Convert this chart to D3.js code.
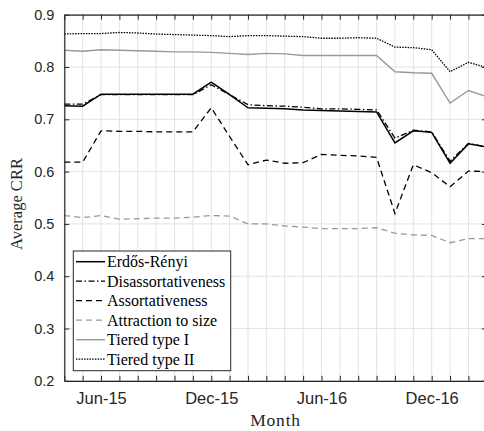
<!DOCTYPE html>
<html>
<head>
<meta charset="utf-8">
<script src="https://d3js.org/d3.v7.min.js"></script>
<style>
  body { margin: 0; background: #fff; }
  svg { display: block; }
</style>
</head>
<body>
<div id="chart"></div>
<script>
// months Apr-15 .. Mar-17 (last one runs off the right edge)
var months = ["Apr-15","May-15","Jun-15","Jul-15","Aug-15","Sep-15","Oct-15","Nov-15","Dec-15",
              "Jan-16","Feb-16","Mar-16","Apr-16","May-16","Jun-16","Jul-16","Aug-16","Sep-16",
              "Oct-16","Nov-16","Dec-16","Jan-17","Feb-17","Mar-17"];
var labeledMonths = ["Jun-15","Dec-15","Jun-16","Dec-16"];
var yTicks = [0.2, 0.3, 0.4, 0.5, 0.6, 0.7, 0.8, 0.9];

var seriesNames = ["Erdős-Rényi","Disassortativeness","Assortativeness","Attraction to size","Tiered type I","Tiered type II"];

var erdosRenyi   = [0.726,0.725,0.748,0.748,0.748,0.748,0.748,0.748,0.771,0.747,0.722,0.721,0.720,0.718,0.717,0.716,0.715,0.714,0.655,0.678,0.675,0.616,0.653,0.647];
var disassort    = [0.729,0.729,0.747,0.747,0.747,0.747,0.747,0.747,0.766,0.747,0.728,0.726,0.725,0.723,0.720,0.720,0.719,0.718,0.664,0.679,0.676,0.620,0.654,0.647];
var assort       = [0.618,0.618,0.678,0.677,0.677,0.676,0.676,0.676,0.722,0.667,0.613,0.622,0.616,0.617,0.633,0.631,0.630,0.627,0.520,0.613,0.598,0.571,0.601,0.600];
var attraction   = [0.516,0.512,0.516,0.509,0.510,0.511,0.511,0.513,0.516,0.515,0.500,0.500,0.496,0.494,0.491,0.491,0.491,0.493,0.482,0.479,0.478,0.464,0.472,0.472];
var tieredOne    = [0.832,0.830,0.833,0.832,0.831,0.830,0.829,0.829,0.828,0.826,0.824,0.826,0.825,0.822,0.822,0.822,0.822,0.822,0.791,0.789,0.788,0.731,0.755,0.743];
var tieredTwo    = [0.863,0.864,0.864,0.866,0.865,0.863,0.862,0.861,0.860,0.858,0.860,0.860,0.859,0.858,0.855,0.855,0.856,0.855,0.838,0.837,0.833,0.791,0.809,0.799];

var allSeries = [erdosRenyi, disassort, assort, attraction, tieredOne, tieredTwo];
var colors = ["#000", "#000", "#000", "#999", "#999", "#000"];
var dashes = [null, "6,2.5,1.5,2.5", "6,4", "6,4", null, "1.5,1.2"];
var widths = [1.5, 1.3, 1.3, 1.3, 1.4, 1.3];

var W = 484, H = 431;
var pLeft = 64.3, pRight = 486.8, pTop = 14.7, pBottom = 380.8;
var axisColor = "#262626";

var svg = d3.select("#chart").append("svg")
    .attr("width", W)
    .attr("height", H);

var x = d3.scalePoint().domain(months).range([pLeft, pRight]);
var y = d3.scaleLinear().domain([0.2, 0.9]).range([pBottom, pTop]);

// grid
svg.append("g").selectAll("line")
  .data(months).enter().append("line")
    .attr("x1", d => x(d)).attr("x2", d => x(d))
    .attr("y1", pTop).attr("y2", pBottom)
    .attr("stroke", "#e3e3e3").attr("stroke-width", 1);
svg.append("g").selectAll("line")
  .data(yTicks).enter().append("line")
    .attr("x1", pLeft).attr("x2", pRight)
    .attr("y1", d => y(d)).attr("y2", d => y(d))
    .attr("stroke", "#e3e3e3").attr("stroke-width", 1);

// lines
var line = d3.line()
    .x((d, i) => x(months[i]))
    .y(d => y(d));

svg.append("g").selectAll("path")
  .data(allSeries).enter().append("path")
    .attr("d", d => line(d))
    .attr("fill", "none")
    .attr("stroke", (d, i) => colors[i])
    .attr("stroke-width", (d, i) => widths[i])
    .attr("stroke-dasharray", (d, i) => dashes[i]);

// axes, ticks pointing inward
function fmtX(d) { return labeledMonths.indexOf(d) >= 0 ? d : ""; }

var xb = svg.append("g").attr("transform", "translate(0," + pBottom + ")")
    .call(d3.axisBottom(x).tickSize(-5).tickSizeOuter(0).tickPadding(11.5).tickFormat(fmtX));
var xt = svg.append("g").attr("transform", "translate(0," + pTop + ")")
    .call(d3.axisTop(x).tickSize(-5).tickSizeOuter(0).tickFormat(""));
var yl = svg.append("g").attr("transform", "translate(" + pLeft + ",0)")
    .call(d3.axisLeft(y).tickValues(yTicks).tickSize(-5).tickSizeOuter(0).tickPadding(10).tickFormat(d3.format(".1f")));
var yr = svg.append("g").attr("transform", "translate(" + pRight + ",0)")
    .call(d3.axisRight(y).tickValues(yTicks).tickSize(-5).tickSizeOuter(0).tickFormat(""));

[xb, xt, yl, yr].forEach(function(g) {
  g.select(".domain").attr("stroke", axisColor).attr("stroke-width", 1.2);
  g.selectAll(".tick line").attr("stroke", axisColor);
  g.selectAll(".tick text").attr("fill", "#262626");
});
xb.selectAll(".tick text").attr("font-family", "'Liberation Sans', Arial, sans-serif").attr("font-size", "16.5px");
yl.selectAll(".tick text").attr("font-family", "'Liberation Sans', Arial, sans-serif").attr("font-size", "14.5px");

// axis titles
svg.append("text")
    .attr("x", (pLeft + pRight) / 2).attr("y", 426)
    .attr("text-anchor", "middle")
    .attr("font-family", "'Liberation Serif', 'Times New Roman', serif")
    .attr("font-size", "17.5px").attr("letter-spacing", "0.8px").attr("fill", "#262626")
    .text("Month");
svg.append("text")
    .attr("transform", "translate(22,204) rotate(-90)")
    .attr("text-anchor", "middle")
    .attr("font-family", "'Liberation Serif', 'Times New Roman', serif")
    .attr("font-size", "16.5px").attr("fill", "#262626")
    .text("Average CRR");

// legend
var lg = svg.append("g");
lg.append("rect")
    .attr("x", 73.3).attr("y", 251)
    .attr("width", 157.4).attr("height", 119.7)
    .attr("fill", "#fff").attr("stroke", axisColor).attr("stroke-width", 1);

var rows = lg.selectAll("g")
  .data(seriesNames).enter().append("g")
    .attr("transform", (d, i) => "translate(0," + (261.7 + i * 19.5) + ")");
rows.append("line")
    .attr("x1", 76).attr("x2", 105).attr("y1", 0).attr("y2", 0)
    .attr("stroke", (d, i) => colors[i])
    .attr("stroke-width", (d, i) => widths[i])
    .attr("stroke-dasharray", (d, i) => dashes[i]);
rows.append("text")
    .attr("x", 107).attr("y", 5.5)
    .attr("font-family", "'Liberation Serif', 'Times New Roman', serif")
    .attr("font-size", "16px").attr("fill", "#000")
    .text(d => d);
</script>
</body>
</html>
